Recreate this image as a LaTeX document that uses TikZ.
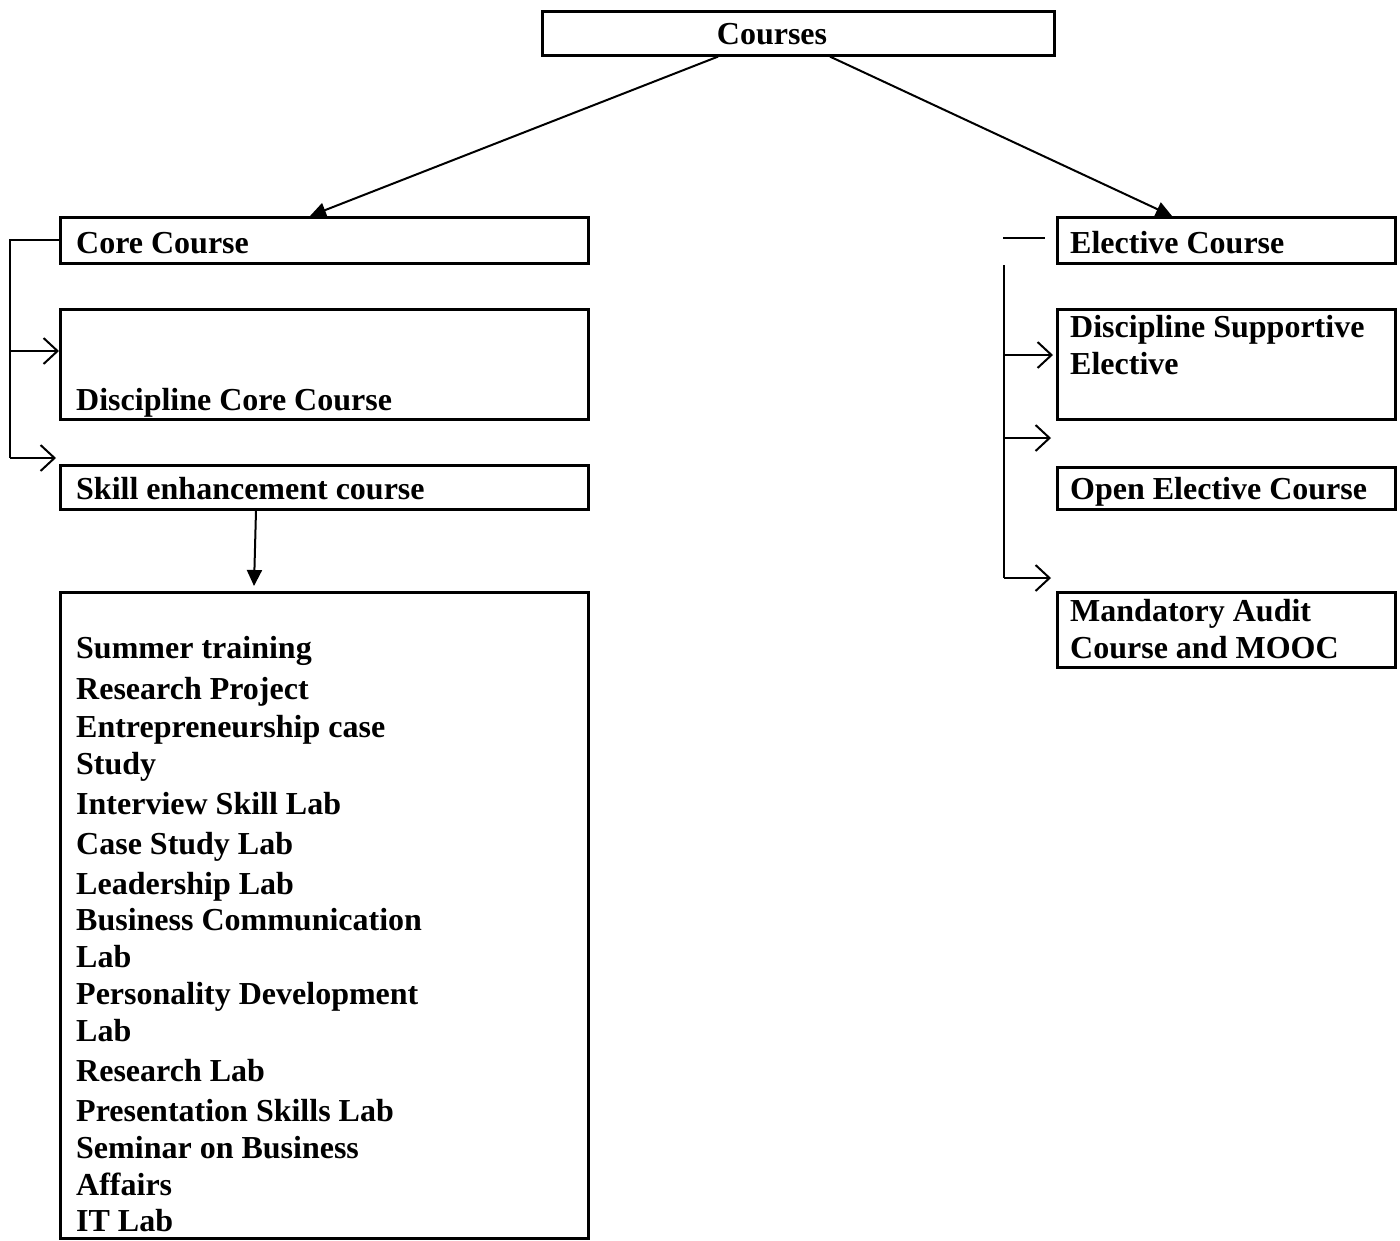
\documentclass[tikz,border=0pt]{standalone}
\usepackage{fontspec}
\setmainfont{Liberation Serif}
\usetikzlibrary{arrows.meta}
\begin{document}
\begin{tikzpicture}[x=1pt,y=-1pt,
  box/.style={draw, line width=2.6pt, inner sep=0pt, anchor=north west},
  lbl/.style={anchor=base west, inner sep=0pt, font=\bfseries\fontsize{32}{37}\selectfont},
  conn/.style={line width=2pt},
  opentip/.style={-{Straight Barb[length=14pt,width=26pt,line width=2pt]}},
  filltip/.style={-{Triangle[length=16pt,width=15pt]}}]
\useasboundingbox (0,0) rectangle (1400,1240);
% boxes
\node[box, minimum width=512pt, minimum height=44pt] (courses) at (541,10) {};
\node[box, minimum width=528pt, minimum height=46pt] (core) at (59,216) {};
\node[box, minimum width=528pt, minimum height=110pt] (dcore) at (59,308) {};
\node[box, minimum width=528pt, minimum height=44pt] (skill) at (59,464) {};
\node[box, minimum width=528pt, minimum height=646pt] (big) at (59,591) {};
\node[box, minimum width=338pt, minimum height=46pt] (elective) at (1056,216) {};
\node[box, minimum width=338pt, minimum height=110pt] (dse) at (1056,308) {};
\node[box, minimum width=338pt, minimum height=42pt] (open) at (1056,466) {};
\node[box, minimum width=338pt, minimum height=75pt] (mand) at (1056,591) {};
% texts
\node[lbl, anchor=base] (tcourses) at (772,44) {Courses};
\node[lbl] (tcore) at (76,253) {Core Course};
\node[lbl] (tdcore) at (76,410) {Discipline Core Course};
\node[lbl] (tskill) at (76,499) {Skill enhancement course};
\node[lbl] (tel) at (1070,253) {Elective Course};
\node[lbl] (tdse1) at (1070,337) {Discipline Supportive};
\node[lbl] (tdse2) at (1070,374) {Elective};
\node[lbl] (topen) at (1070,499) {Open Elective Course};
\node[lbl] (tm1) at (1070,621) {Mandatory Audit};
\node[lbl] (tm2) at (1070,658) {Course and MOOC};
\node[lbl] (b1) at (76,658) {Summer training};
\node[lbl] (b2) at (76,699) {Research Project};
\node[lbl] (b3) at (76,737) {Entrepreneurship case};
\node[lbl] (b4) at (76,774) {Study};
\node[lbl] (b5) at (76,814) {Interview Skill Lab};
\node[lbl] (b6) at (76,854) {Case Study Lab};
\node[lbl] (b7) at (76,894) {Leadership Lab};
\node[lbl] (b8) at (76,930) {Business Communication};
\node[lbl] (b9) at (76,967) {Lab};
\node[lbl] (b10) at (76,1004) {Personality Development};
\node[lbl] (b11) at (76,1041) {Lab};
\node[lbl] (b12) at (76,1081) {Research Lab};
\node[lbl] (b13) at (76,1121) {Presentation Skills Lab};
\node[lbl] (b14) at (76,1158) {Seminar on Business};
\node[lbl] (b15) at (76,1195) {Affairs};
\node[lbl] (b16) at (76,1231) {IT Lab};
% top connectors
\draw[conn, filltip] ([xshift=177pt]courses.south west) -- ([xshift=251pt]core.north west);
\draw[conn, filltip] ([xshift=289pt]courses.south west) -- ([xshift=116pt]elective.north west);
% left bracket
\coordinate (lcorner) at (10,458);
\coordinate (ldc) at (10,351);
\draw[conn] (core.west) -| (lcorner);
\draw[conn, opentip] (ldc) -- (dcore.west |- ldc);
\draw[conn, opentip] (lcorner) -- ([xshift=-3pt]skill.north west |- lcorner);
% down arrow
\draw[conn, filltip] ([xshift=197pt]skill.south west) -- ([xshift=195pt,yshift=5pt]big.north west);
% right side
\coordinate (rshort) at (1003,238);
\draw[conn] (rshort) -- ([xshift=-11pt]elective.west |- rshort);
\coordinate (rtop) at (1004,265);
\coordinate (rbot) at (1004,578);
\coordinate (r1) at (1004,355);
\coordinate (r2) at (1004,438);
\draw[conn] (rtop) -- (rbot);
\draw[conn, opentip] (r1) -- ([xshift=-3pt]dse.west |- r1);
\draw[conn, opentip] (r2) -- ([xshift=-5pt]dse.west |- r2);
\draw[conn, opentip] (rbot) -- ([xshift=-5pt]mand.west |- rbot);
\end{tikzpicture}
\end{document}
